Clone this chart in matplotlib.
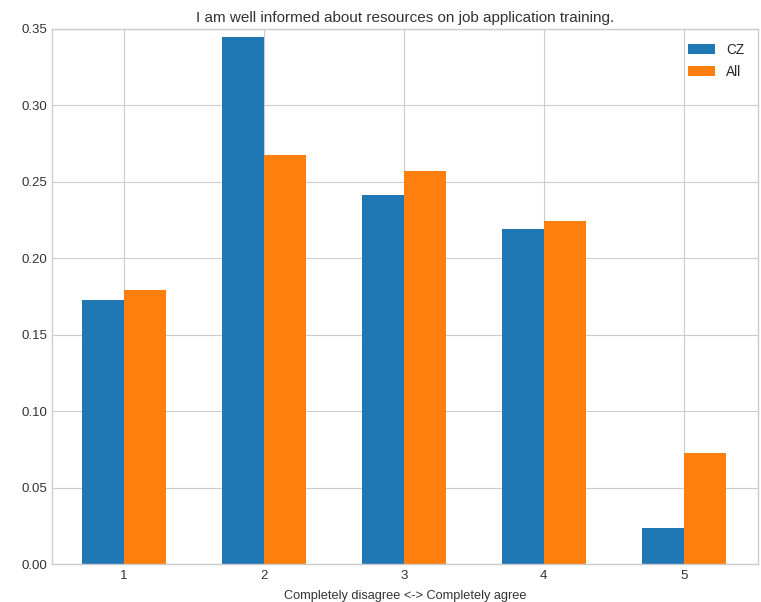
import matplotlib

matplotlib.use("Agg")

import matplotlib.pyplot as plt
import numpy as np

# Survey answers on a 1..5 scale, share of respondents
SCALE = [1, 2, 3, 4, 5]
CZ_SHARE = [0.1727, 0.3448, 0.2414, 0.2192, 0.0236]
ALL_SHARE = [0.1793, 0.2676, 0.2571, 0.2244, 0.0726]

TITLE = "I am well informed about resources on job application training."
XLABEL = "Completely disagree <-> Completely agree"

plt.style.use("seaborn-v0_8-whitegrid")
plt.rcParams["font.family"] = ["Liberation Sans", "DejaVu Sans"]

fig = plt.figure(figsize=(7.61, 6.02), dpi=100)
ax = fig.add_axes([0.068, 0.063, 0.928, 0.889])

x = np.array(SCALE, dtype=float)
width = 0.3
ax.bar(x - width / 2, CZ_SHARE, width, color="#1f77b4", label="CZ", zorder=2)
ax.bar(x + width / 2, ALL_SHARE, width, color="#ff7f0e", label="All", zorder=2)

ax.set_xticks(SCALE)
ax.set_xlim(0.486, 5.53)
ax.set_ylim(0, 0.35)
ax.set_yticks(np.arange(0, 0.351, 0.05))
ax.yaxis.set_major_formatter(matplotlib.ticker.FormatStrFormatter("%.2f"))
ax.set_title(TITLE, fontsize=11, color="#333333", pad=5)
ax.set_xlabel(XLABEL, fontsize=9.2, color="#333333", labelpad=6)
ax.tick_params(labelsize=9.5, labelcolor="#333333")
ax.tick_params(axis="x", pad=4)
for spine in ax.spines.values():
    spine.set_visible(True)
    spine.set_color("#cccccc")
ax.legend(loc="upper right", fontsize=9.8, frameon=False, labelspacing=0.6,
          borderaxespad=0.6)

fig.savefig("out.png", dpi=100)
